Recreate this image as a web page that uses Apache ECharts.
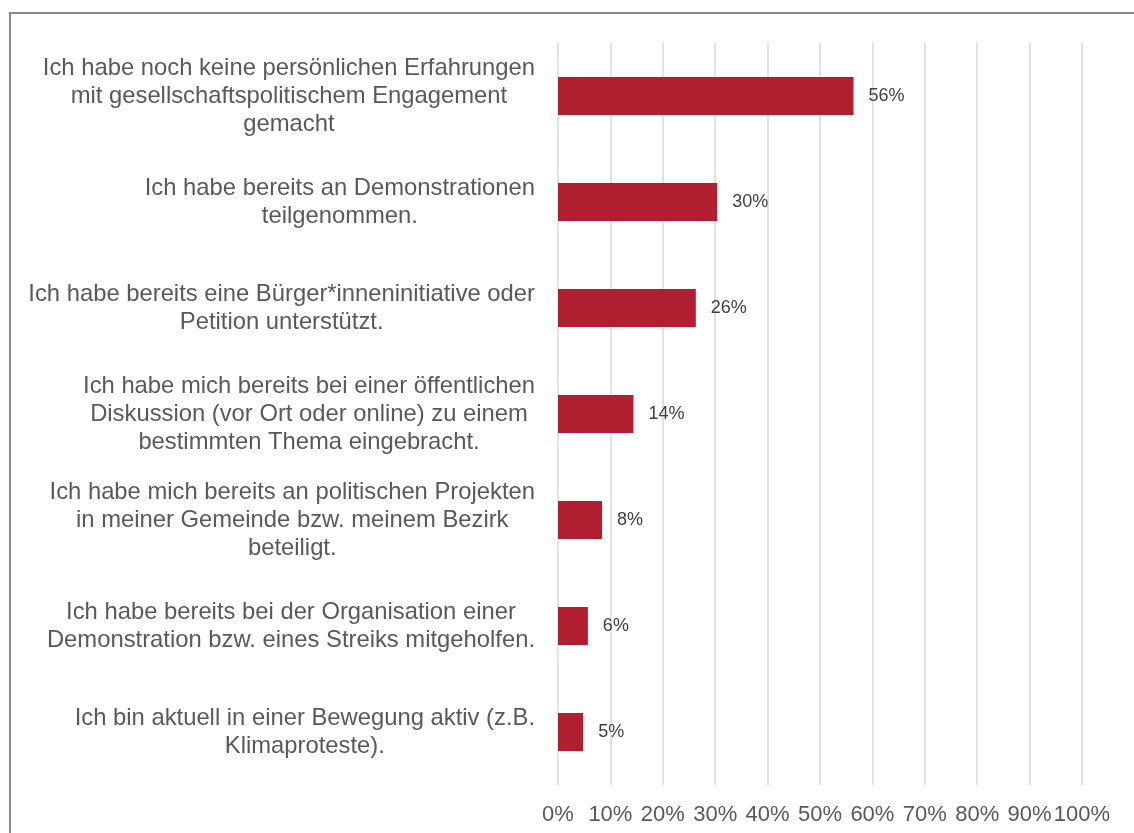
<!DOCTYPE html>
<html>
<head>
<meta charset="utf-8">
<script src="https://cdn.jsdelivr.net/npm/echarts@6/dist/echarts.min.js"></script>
<style>
html,body{margin:0;padding:0;background:#fff;overflow:hidden;}
#frame{position:absolute;left:9px;top:12px;width:1200px;height:900px;border:2px solid #8a8a8a;box-sizing:border-box;pointer-events:none;z-index:2;}
#chart{position:absolute;left:0;top:0;width:1134px;height:833px;}
</style>
</head>
<body>
<div id="chart"></div>
<div id="frame"></div>
<script>
const categories = [
  "Ich habe noch keine persönlichen Erfahrungen\nmit gesellschaftspolitischem Engagement\ngemacht",
  "Ich habe bereits an Demonstrationen\nteilgenommen.",
  "Ich habe bereits eine Bürger*inneninitiative oder\nPetition unterstützt.",
  "Ich habe mich bereits bei einer öffentlichen\nDiskussion (vor Ort oder online) zu einem\nbestimmten Thema eingebracht.",
  "Ich habe mich bereits an politischen Projekten\nin meiner Gemeinde bzw. meinem Bezirk\nbeteiligt.",
  "Ich habe bereits bei der Organisation einer\nDemonstration bzw. eines Streiks mitgeholfen.",
  "Ich bin aktuell in einer Bewegung aktiv (z.B.\nKlimaproteste)."
];
const values = [56.4, 30.4, 26.3, 14.4, 8.4, 5.7, 4.8];
const xTicks = { min: 0, max: 100, interval: 10 };

const chart = echarts.init(document.getElementById('chart'), null, {renderer: 'canvas'});
chart.setOption({
  animation: false,
  backgroundColor: '#ffffff',
  textStyle: { fontFamily: 'Liberation Sans, Arial, sans-serif' },
  grid: { left: 558, right: 52, top: 43, bottom: 48, containLabel: false },
  xAxis: {
    type: 'value',
    min: xTicks.min, max: xTicks.max, interval: xTicks.interval,
    axisLine: { show: false },
    axisTick: { show: false },
    splitLine: { show: true, lineStyle: { color: '#d9d9d9', width: 1.5 } },
    axisLabel: {
      formatter: '{value}%',
      color: '#595959',
      fontSize: 22,
      margin: 19,
      fontFamily: 'Liberation Sans, Arial, sans-serif'
    }
  },
  yAxis: {
    type: 'category',
    inverse: true,
    data: categories,
    axisLine: { show: false },
    axisTick: { show: false },
    splitLine: { show: false },
    axisLabel: {
      margin: 23,
      interval: 0,
      formatter: function (v) {
        return v.split('\n').map(function (l) { return '{c|' + l + '}'; }).join('\n');
      },
      rich: {
        c: {
          align: 'center',
          color: '#595959',
          fontSize: 23.8,
          lineHeight: 28,
          fontFamily: 'Liberation Sans, Arial, sans-serif'
        }
      }
    }
  },
  series: [{
    type: 'bar',
    data: values,
    barWidth: '36%',
    itemStyle: { color: '#b01e2f' },
    label: {
      show: true,
      position: 'right',
      distance: 15,
      color: '#404040',
      fontSize: 18,
      fontFamily: 'Liberation Sans, Arial, sans-serif',
      formatter: function (p) { return Math.round(p.value) + '%'; }
    }
  }]
});
</script>
</body>
</html>
